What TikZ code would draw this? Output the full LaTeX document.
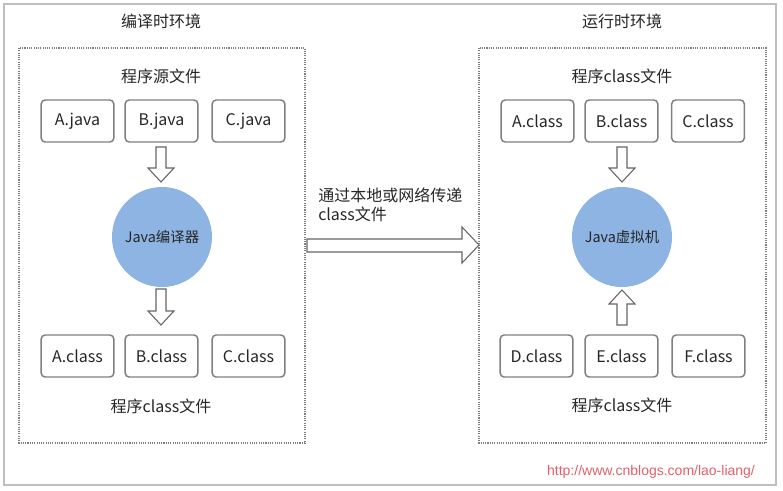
\documentclass[tikz,border=0pt]{standalone}
\usepackage{fontspec}
\setmainfont{Noto Sans CJK SC}
\newfontfamily\urlfont{Liberation Sans}
\definecolor{txt}{HTML}{262626}
\definecolor{boxline}{HTML}{7F7F7F}
\definecolor{outer}{HTML}{BFBFBF}
\definecolor{circ}{HTML}{8DB4E2}
\definecolor{urlred}{HTML}{E2606A}
\begin{document}
\begin{tikzpicture}[x=0.75pt,y=-0.75pt,
  every node/.style={text=txt,font=\fontsize{12}{14}\selectfont},
  filebox/.style={draw=boxline,line width=1.1pt,rounded corners=3pt,minimum width=54.5pt,minimum height=31.5pt,inner sep=0pt},
  envbox/.style={draw=boxline,line width=0.8pt,dash pattern=on 0.8pt off 0.9pt},
  vm/.style={circle,fill=circ,minimum size=75pt,inner sep=0pt,font=\fontsize{10.8}{12}\selectfont},
  blockarrow/.style={draw=boxline!80!black,line width=0.8pt,fill=white,line join=miter},
  lbl/.style={inner sep=0pt}]
\useasboundingbox (0,0) rectangle (783,490);
\draw[outer,line width=0.9pt] (4,4) rectangle (776,485);
% environments
\draw[envbox] (19,48) rectangle (305,443);
\draw[envbox] (479,48) rectangle (766,443);
\node[lbl] (t1) at (161,21) {编译时环境};
\node[lbl] (t2) at (622,21) {运行时环境};
% left side
\node[lbl] (src) at (161,76) {程序源文件};
\node[filebox] (aj) at (77.5,121) {A.java};
\node[filebox] (bj) at (161.5,121) {B.java};
\node[filebox] (cj) at (248.5,121) {C.java};
\node[vm] (comp) at (162,237) {Java编译器};
\node[filebox] (ac) at (77.5,356) {A.class};
\node[filebox] (bc) at (161.5,356) {B.class};
\node[filebox] (cc) at (248.5,356) {C.class};
\node[lbl] (cls1) at (161,406) {程序class文件};
% right side
\node[lbl] (cls2) at (622,76) {程序class文件};
\node[filebox] (ra) at (537.5,121) {A.class};
\node[filebox] (rb) at (621.5,121) {B.class};
\node[filebox] (rc) at (708,121) {C.class};
\node[vm] (jvm) at (622,237) {Java虚拟机};
\node[filebox] (rd) at (536.5,356) {D.class};
\node[filebox] (re) at (621.5,356) {E.class};
\node[filebox] (rf) at (708.5,356) {F.class};
\node[lbl] (cls3) at (622,405) {程序class文件};
% block arrows
\draw[blockarrow] (156,147) -- (166,147) -- (166,168) -- (174,168) -- (161,182) -- (148,168) -- (156,168) -- cycle;
\draw[blockarrow] (156,289) -- (166,289) -- (166,311) -- (174,311) -- (161,325) -- (148,311) -- (156,311) -- cycle;
\draw[blockarrow] (617,147) -- (627,147) -- (627,168) -- (635,168) -- (622,182) -- (609,168) -- (617,168) -- cycle;
\draw[blockarrow] (617,325) -- (627,325) -- (627,304) -- (635,304) -- (622,290) -- (609,304) -- (617,304) -- cycle;
\draw[blockarrow] (307,239) -- (462,239) -- (462,227) -- (479,245) -- (462,263) -- (462,252) -- (307,252) -- cycle;
\node[lbl,anchor=west,align=left] (mid) at (318,205) {通过本地或网络传递\\[0pt]class文件};
\node[lbl,text=urlred,font=\urlfont\fontsize{10.5}{12}\selectfont] (url) at (651,472) {http://www.cnblogs.com/lao-liang/};
\end{tikzpicture}
\end{document}
